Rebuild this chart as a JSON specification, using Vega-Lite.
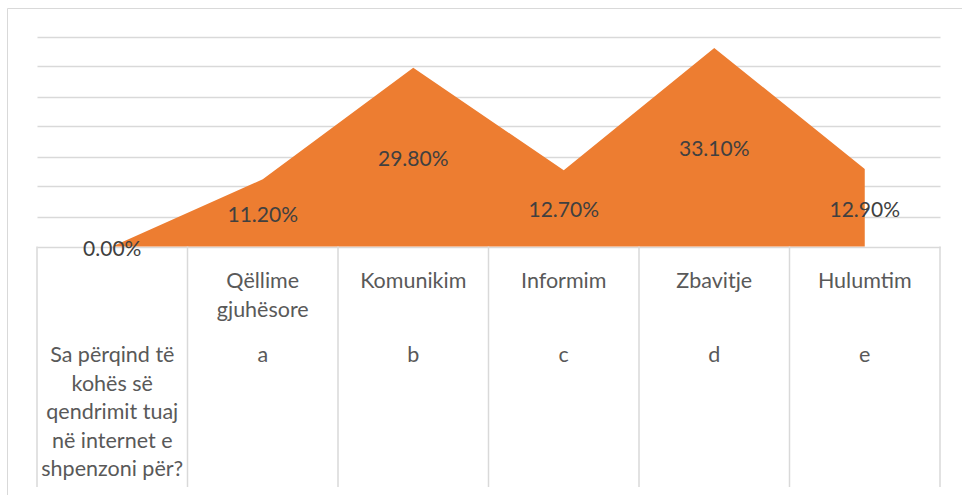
{
  "$schema": "https://vega.github.io/schema/vega-lite/v6.json",
  "width": 960,
  "height": 490,
  "autosize": {"type": "none"},
  "padding": {"left": 7, "top": 8, "right": 0, "bottom": 0},
  "background": "white",
  "config": {"view": {"stroke": "#d9d9d9", "strokeWidth": 1}, "font": "Lato"},
  "datasets": {
    "series": [
      {"k": "q0", "v": 0},
      {"k": "a", "v": 0.112},
      {"k": "b", "v": 0.298},
      {"k": "c", "v": 0.127},
      {"k": "d", "v": 0.331},
      {"k": "e", "v": 0.129}
    ],
    "table": [
      {"k": "a", "row": "r1", "label": "Qëllime\ngjuhësore"},
      {"k": "b", "row": "r1", "label": "Komunikim"},
      {"k": "c", "row": "r1", "label": "Informim"},
      {"k": "d", "row": "r1", "label": "Zbavitje"},
      {"k": "e", "row": "r1", "label": "Hulumtim"},
      {"k": "q0", "row": "r2", "label": "Sa përqind të\nkohës së\nqendrimit tuaj\nnë internet e\nshpenzoni për?"},
      {"k": "a", "row": "r2", "label": "a"},
      {"k": "b", "row": "r2", "label": "b"},
      {"k": "c", "row": "r2", "label": "c"},
      {"k": "d", "row": "r2", "label": "d"},
      {"k": "e", "row": "r2", "label": "e"}
    ]
  },
  "resolve": {"scale": {"y": "independent"}},
  "layer": [
    {
      "data": {"name": "series"},
      "mark": {"type": "area", "color": "#ED7D31", "interpolate": "linear"},
      "encoding": {
        "x": {"field": "k", "type": "nominal", "sort": null, "bandPosition": 0.5,
              "scale": {"type": "band", "domain": ["q0", "a", "b", "c", "d", "e"], "range": [30, 933], "paddingInner": 0, "paddingOuter": 0},
              "axis": null},
        "y": {"field": "v", "type": "quantitative",
              "scale": {"domain": [0, 0.35], "range": [238.5, 28.5], "nice": false},
              "axis": {"values": [0, 0.05, 0.1, 0.15, 0.2, 0.25, 0.3, 0.35], "grid": true, "gridColor": "#d9d9d9", "gridWidth": 1.5,
                       "labels": false, "ticks": false, "domain": false, "title": null}}
      }
    },
    {
      "data": {"name": "series"},
      "mark": {"type": "text", "fontSize": 21, "color": "#404040", "baseline": "middle", "align": "center", "dy": 3},
      "encoding": {
        "x": {"field": "k", "type": "nominal", "sort": null, "bandPosition": 0.5,
              "scale": {"type": "band", "domain": ["q0", "a", "b", "c", "d", "e"], "range": [30, 933], "paddingInner": 0, "paddingOuter": 0},
              "axis": null},
        "y": {"field": "v", "type": "quantitative",
              "scale": {"domain": [0, 0.7], "range": [238.5, 28.5], "nice": false}, "axis": null},
        "text": {"field": "v", "type": "quantitative", "format": ".2%"}
      }
    },
    {
      "data": {"name": "series"},
      "mark": {"type": "rule", "color": "#d9d9d9", "strokeWidth": 1.5},
      "encoding": {
        "x": {"field": "k", "type": "nominal", "sort": null, "bandPosition": 0,
              "scale": {"type": "band", "domain": ["q0", "a", "b", "c", "d", "e"], "range": [30, 933], "paddingInner": 0, "paddingOuter": 0},
              "axis": null},
        "y": {"datum": 0, "type": "quantitative", "scale": {"domain": [0, 1], "range": [238.5, 479], "nice": false}, "axis": null},
        "y2": {"datum": 1}
      }
    },
    {
      "data": {"values": [{"k": "e"}]},
      "mark": {"type": "rule", "color": "#d9d9d9", "strokeWidth": 1.5},
      "encoding": {
        "x": {"field": "k", "type": "nominal", "sort": null, "bandPosition": 1,
              "scale": {"type": "band", "domain": ["q0", "a", "b", "c", "d", "e"], "range": [30, 933], "paddingInner": 0, "paddingOuter": 0},
              "axis": null},
        "y": {"datum": 0, "type": "quantitative", "scale": {"domain": [0, 1], "range": [238.5, 479], "nice": false}, "axis": null},
        "y2": {"datum": 1}
      }
    },
    {
      "data": {"name": "table"},
      "mark": {"type": "text", "fontSize": 21.5, "color": "#595959", "baseline": "top", "align": "center", "lineBreak": "\n", "lineHeight": 28.5},
      "encoding": {
        "x": {"field": "k", "type": "nominal", "sort": null, "bandPosition": 0.5,
              "scale": {"type": "band", "domain": ["q0", "a", "b", "c", "d", "e"], "range": [30, 933], "paddingInner": 0, "paddingOuter": 0},
              "axis": null},
        "y": {"field": "row", "type": "ordinal",
              "scale": {"type": "point", "domain": ["r1", "r2"], "range": [263, 337], "padding": 0}, "axis": null},
        "text": {"field": "label", "type": "nominal"}
      }
    }
  ]
}
